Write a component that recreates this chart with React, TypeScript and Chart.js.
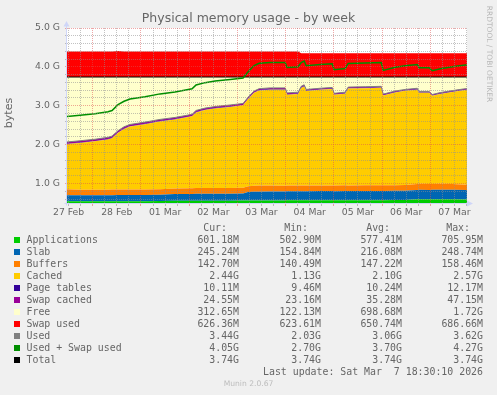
import React, { useEffect, useRef } from "react";
import { Chart, registerables } from "chart.js";

Chart.register(...registerables);

// ---- time axis: days since 27 Feb 00:00 ----
const days = [
  0.467, 0.737, 1.048, 1.318, 1.401, 1.525, 1.65, 1.774, 2.085, 2.396,
  2.708, 3.06, 3.143, 3.33, 3.538, 3.849, 4.118, 4.222, 4.347, 4.45,
  4.679, 4.99, 5.031, 5.26, 5.322, 5.384, 5.426, 5.716, 5.965, 6.006,
  6.235, 6.297, 6.65, 6.982, 7.023, 7.272, 7.479, 7.728, 7.77, 7.977,
  8.04, 8.206, 8.455, 8.76,
];

// ---- series values (GiB) ----
const applications = [
  0.548, 0.545, 0.546, 0.544, 0.545, 0.547, 0.546, 0.545, 0.548, 0.55,
  0.556, 0.558, 0.56, 0.559, 0.561, 0.56, 0.562, 0.565, 0.566, 0.565,
  0.567, 0.566, 0.57, 0.57, 0.571, 0.572, 0.57, 0.572, 0.571, 0.57,
  0.572, 0.571, 0.573, 0.572, 0.571, 0.574, 0.575, 0.596, 0.597, 0.595,
  0.596, 0.598, 0.596, 0.587,
];
const slab = [
  0.152, 0.155, 0.156, 0.156, 0.157, 0.158, 0.158, 0.159, 0.16, 0.162,
  0.175, 0.176, 0.178, 0.178, 0.179, 0.18, 0.182, 0.215, 0.222, 0.226,
  0.227, 0.228, 0.23, 0.231, 0.233, 0.233, 0.234, 0.235, 0.235, 0.235,
  0.236, 0.236, 0.236, 0.237, 0.237, 0.238, 0.238, 0.241, 0.242, 0.242,
  0.243, 0.242, 0.244, 0.245,
];
const buffers = [
  0.156, 0.141, 0.14, 0.141, 0.142, 0.141, 0.142, 0.143, 0.142, 0.143,
  0.145, 0.146, 0.145, 0.146, 0.147, 0.146, 0.148, 0.152, 0.155, 0.158,
  0.153, 0.151, 0.15, 0.149, 0.146, 0.145, 0.146, 0.145, 0.146, 0.147,
  0.146, 0.145, 0.146, 0.145, 0.146, 0.147, 0.148, 0.152, 0.153, 0.152,
  0.151, 0.152, 0.15, 0.139,
];
const cached = [
  1.158, 1.204, 1.243, 1.294, 1.321, 1.46, 1.56, 1.619, 1.677, 1.742,
  1.772, 1.848, 1.946, 2.006, 2.043, 2.084, 2.119, 2.241, 2.39, 2.445,
  2.467, 2.47, 2.335, 2.355, 2.508, 2.548, 2.43, 2.458, 2.48, 2.33,
  2.358, 2.491, 2.498, 2.509, 2.31, 2.385, 2.424, 2.426, 2.343, 2.347,
  2.266, 2.314, 2.366, 2.44,
];
const pageTables = [
  0.0095, 0.0095, 0.0096, 0.0096, 0.0097, 0.0097, 0.0098, 0.0098, 0.0099, 0.0099,
  0.01, 0.01, 0.0101, 0.0101, 0.0102, 0.0102, 0.0103, 0.0105, 0.0106, 0.0108,
  0.011, 0.0112, 0.0115, 0.0117, 0.0119, 0.0118, 0.0115, 0.011, 0.0105, 0.0103,
  0.0102, 0.0101, 0.01, 0.01, 0.0099, 0.0099, 0.0099, 0.0099, 0.0099, 0.0099,
  0.01, 0.01, 0.0101, 0.0101,
];
const swapCached = [
  0.046, 0.046, 0.045, 0.045, 0.045, 0.044, 0.044, 0.044, 0.043, 0.043,
  0.042, 0.042, 0.041, 0.041, 0.04, 0.04, 0.039, 0.037, 0.036, 0.035,
  0.035, 0.034, 0.034, 0.033, 0.03, 0.03, 0.029, 0.029, 0.028, 0.028,
  0.028, 0.027, 0.027, 0.027, 0.026, 0.026, 0.025, 0.025, 0.025, 0.024,
  0.024, 0.024, 0.024, 0.024,
];
const swapUsed = [
  0.655, 0.655, 0.656, 0.656, 0.657, 0.67, 0.656, 0.655, 0.655, 0.656,
  0.655, 0.655, 0.656, 0.655, 0.655, 0.655, 0.656, 0.655, 0.655, 0.655,
  0.655, 0.655, 0.654, 0.654, 0.611, 0.61, 0.61, 0.609, 0.609, 0.609,
  0.609, 0.609, 0.61, 0.61, 0.61, 0.61, 0.611, 0.611, 0.611, 0.611,
  0.612, 0.612, 0.612, 0.612,
];
const totalMemory = 3.74;

// ---- tick labels ----
const dateLabels = ["27 Feb", "28 Feb", "01 Mar", "02 Mar", "03 Mar", "04 Mar", "05 Mar", "06 Mar", "07 Mar"];

// ---- legend table ----
const legendNames = ["Applications", "Slab", "Buffers", "Cached", "Page tables", "Swap cached", "Free", "Swap used", "Used", "Used + Swap used", "Total"];
const legendColors = ["#00CC00", "#0066B3", "#FF8000", "#FFCC00", "#330099", "#990099", "#FFFFCC", "#FF0000", "#808080", "#008F00", "#000000"];
const legendCur = ["601.18M", "245.24M", "142.70M", "2.44G", "10.11M", "24.55M", "312.65M", "626.36M", "3.44G", "4.05G", "3.74G"];
const legendMin = ["502.90M", "154.84M", "140.49M", "1.13G", "9.46M", "23.16M", "122.13M", "623.61M", "2.03G", "2.70G", "3.74G"];
const legendAvg = ["577.41M", "216.08M", "147.22M", "2.10G", "10.24M", "35.28M", "698.68M", "650.74M", "3.06G", "3.70G", "3.74G"];
const legendMax = ["705.95M", "248.74M", "158.46M", "2.57G", "12.17M", "47.15M", "1.72G", "686.66M", "3.62G", "4.27G", "3.74G"];
const legendHeaders = ["Cur:", "Min:", "Avg:", "Max:"];
const lastUpdate = "Last update: Sat Mar  7 18:30:10 2026";
const titleText = "Physical memory usage - by week";
const yAxisTitle = "bytes";
const watermark = "RRDTOOL / TOBI OETIKER";
const versionText = "Munin 2.0.67";

const W = 497;
const H = 395;
const FONT = "#666666";
const GRID = "rgba(143,143,143,0.55)";
const MGRID = "rgba(222,79,79,0.5)";
const AXIS = "#CFD6F8";

const isInt = (v: number) => Math.abs(v - Math.round(v)) < 1e-6;

const axesPlugin = {
  id: "rrdAxes",
  beforeDraw(chart: any) {
    const { ctx, chartArea: a } = chart;
    ctx.save();
    ctx.fillStyle = "#FFFFFF";
    ctx.fillRect(a.left, a.top, a.right - a.left, a.bottom - a.top);
    ctx.restore();
  },
  afterDraw(chart: any) {
    const { ctx, chartArea: a } = chart;
    ctx.save();
    ctx.strokeStyle = AXIS;
    ctx.fillStyle = AXIS;
    ctx.lineWidth = 1;
    const xl = Math.round(a.left) - 0.5;
    const yb = Math.round(a.bottom) + 0.5;
    ctx.beginPath();
    ctx.moveTo(xl, yb + 2);
    ctx.lineTo(xl, a.top - 3);
    ctx.moveTo(xl - 2, yb);
    ctx.lineTo(a.right + 1, yb);
    ctx.stroke();
    ctx.beginPath();
    ctx.moveTo(xl, a.top - 7);
    ctx.lineTo(xl - 3, a.top - 1.5);
    ctx.lineTo(xl + 3, a.top - 1.5);
    ctx.closePath();
    ctx.fill();
    ctx.beginPath();
    ctx.moveTo(a.right + 6, yb);
    ctx.lineTo(a.right, yb - 3);
    ctx.lineTo(a.right, yb + 3);
    ctx.closePath();
    ctx.fill();
    ctx.restore();
  },
};

export default function App() {
  const ref = useRef<HTMLCanvasElement>(null);

  useEffect(() => {
    const used = days.map((_, i) => applications[i] + slab[i] + buffers[i] + cached[i] + pageTables[i] + swapCached[i]);
    const free = used.map((u) => totalMemory - u);
    const usedPlusSwap = used.map((u, i) => u + swapUsed[i]);
    const total = days.map(() => totalMemory);
    const pts = (arr: number[]) => days.map((d, i) => ({ x: d, y: arr[i] }));

    const area = (label: string, arr: number[], color: string, fill: any) => ({
      label,
      data: pts(arr),
      backgroundColor: color,
      borderColor: "rgba(0,0,0,0)",
      borderWidth: 0,
      fill,
      pointRadius: 0,
      tension: 0,
      stack: "mem",
      order: 1,
    });
    const line = (label: string, arr: number[], color: string, width: number) => ({
      label,
      data: pts(arr),
      backgroundColor: color,
      borderColor: color,
      borderWidth: width,
      fill: false,
      pointRadius: 0,
      tension: 0,
      stack: label,
      order: 0,
    });

    const gridOpts = (tickLength: number) => ({
      z: 1,
      color: (c: any) => (c.tick && isInt(c.tick.value) ? MGRID : GRID),
      tickColor: (c: any) => (c.tick && isInt(c.tick.value) ? MGRID : GRID),
      lineWidth: 1,
      drawTicks: true,
      tickLength,
    });

    const chart = new Chart(ref.current as HTMLCanvasElement, {
      type: "line",
      data: {
        datasets: [
          area("Applications", applications, legendColors[0], "start"),
          area("Slab", slab, legendColors[1], "-1"),
          area("Buffers", buffers, legendColors[2], "-1"),
          area("Cached", cached, legendColors[3], "-1"),
          area("Page tables", pageTables, legendColors[4], "-1"),
          area("Swap cached", swapCached, legendColors[5], "-1"),
          area("Free", free, legendColors[6], "-1"),
          area("Swap used", swapUsed, legendColors[7], "-1"),
          line("Used", used, legendColors[8], 1),
          line("Used + Swap used", usedPlusSwap, legendColors[9], 1.5),
          line("Total", total, legendColors[10], 1),
        ] as any,
      },
      options: {
        animation: false,
        responsive: false,
        devicePixelRatio: 1,
        layout: { padding: { left: 0, top: 28, right: W - 467, bottom: H - 203 - 20 } },
        plugins: { legend: { display: false }, tooltip: { enabled: false }, title: { display: false } },
        scales: {
          x: {
            type: "linear",
            min: 0.467,
            max: 8.76,
            afterBuildTicks: (s: any) => {
              const t = [];
              for (let k = Math.ceil(s.min * 4); k <= Math.floor(s.max * 4); k++) t.push({ value: k / 4 });
              s.ticks = t;
            },
            afterFit: (s: any) => {
              s.height = 20;
            },
            grid: gridOpts(3),
            border: { display: false, dash: [1, 1] },
            ticks: {
              autoSkip: false,
              maxRotation: 0,
              minRotation: 0,
              padding: 1,
              color: FONT,
              font: { family: "DejaVu Sans", size: 9.3 },
              callback: (v: any) => {
                const n = Number(v);
                if (Math.abs(n - Math.floor(n) - 0.5) < 1e-6) return dateLabels[Math.floor(n)] ?? "";
                return "";
              },
            },
          },
          y: {
            type: "linear",
            stacked: true,
            min: 0.5,
            max: 5.0,
            afterBuildTicks: (s: any) => {
              const t = [];
              for (let k = 3; k <= 25; k++) t.push({ value: k / 5 });
              s.ticks = t;
            },
            afterFit: (s: any) => {
              s.width = 67;
            },
            grid: gridOpts(2),
            border: { display: false, dash: [1, 1] },
            ticks: {
              autoSkip: false,
              padding: 5,
              color: FONT,
              font: { family: "DejaVu Sans", size: 9.3 },
              callback: (v: any) => {
                const n = Number(v);
                return isInt(n) ? `${n.toFixed(1)} G` : "";
              },
            },
          },
        },
      } as any,
      plugins: [axesPlugin],
    });
    return () => chart.destroy();
  }, []);

  const mono = "'DejaVu Sans Mono', monospace";
  const valueEdges = [239, 321, 402, 483];
  const headerEdges = [227, 308, 390, 470];
  const cols = [legendCur, legendMin, legendAvg, legendMax];
  const rowTop = (i: number) => 239.7 + 12 * i;

  return (
    <div
      style={{
        position: "absolute",
        left: 0,
        top: 0,
        width: W,
        height: H,
        background: "#F0F0F0",
        overflow: "hidden",
        fontFamily: "'DejaVu Sans', sans-serif",
        color: FONT,
      }}
    >
      <canvas ref={ref} width={W} height={H} style={{ position: "absolute", left: 0, top: 0, width: W, height: H }} />
      <div
        style={{
          position: "absolute",
          left: 0,
          top: 11,
          width: W,
          textAlign: "center",
          fontSize: 12.5,
          lineHeight: "14px",
          whiteSpace: "pre",
        }}
      >
        {titleText}
      </div>
      <div
        style={{
          position: "absolute",
          left: 9 - 30,
          top: 113 - 7,
          width: 60,
          height: 14,
          lineHeight: "14px",
          fontSize: 11,
          textAlign: "center",
          transform: "rotate(-90deg)",
        }}
      >
        {yAxisTitle}
      </div>
      <div
        style={{
          position: "absolute",
          left: 489 - 55,
          top: 53.5 - 5,
          width: 110,
          height: 10,
          lineHeight: "10px",
          fontSize: 7.5,
          textAlign: "center",
          color: "#B8B8B8",
          whiteSpace: "pre",
          transform: "rotate(90deg)",
        }}
      >
        {watermark}
      </div>
      {legendHeaders.map((h, j) => (
        <div
          key={"h" + j}
          style={{
            position: "absolute",
            right: W - headerEdges[j],
            top: 227.7 - 6,
            lineHeight: "12px",
            fontSize: 9.9,
            fontFamily: mono,
            whiteSpace: "pre",
          }}
        >
          {h}
        </div>
      ))}
      {legendNames.map((name, i) => (
        <React.Fragment key={name}>
          <div
            style={{
              position: "absolute",
              left: 14,
              top: Math.round(rowTop(i) - 3),
              width: 6,
              height: 6,
              background: legendColors[i],
            }}
          />
          <div
            style={{
              position: "absolute",
              left: 26.5,
              top: rowTop(i) - 6,
              lineHeight: "12px",
              fontSize: 9.9,
              fontFamily: mono,
              whiteSpace: "pre",
            }}
          >
            {name}
          </div>
          {cols.map((col, j) => (
            <div
              key={j}
              style={{
                position: "absolute",
                right: W - valueEdges[j],
                top: rowTop(i) - 6,
                lineHeight: "12px",
                fontSize: 9.9,
                fontFamily: mono,
                whiteSpace: "pre",
              }}
            >
              {col[i]}
            </div>
          ))}
        </React.Fragment>
      ))}
      <div
        style={{
          position: "absolute",
          right: W - 483,
          top: 371.7 - 6,
          lineHeight: "12px",
          fontSize: 9.9,
          fontFamily: mono,
          whiteSpace: "pre",
        }}
      >
        {lastUpdate}
      </div>
      <div
        style={{
          position: "absolute",
          left: 0,
          width: W,
          top: 383.7 - 5,
          lineHeight: "10px",
          fontSize: 7.6,
          textAlign: "center",
          color: "#BDBDBD",
          whiteSpace: "pre",
        }}
      >
        {versionText}
      </div>
    </div>
  );
}
